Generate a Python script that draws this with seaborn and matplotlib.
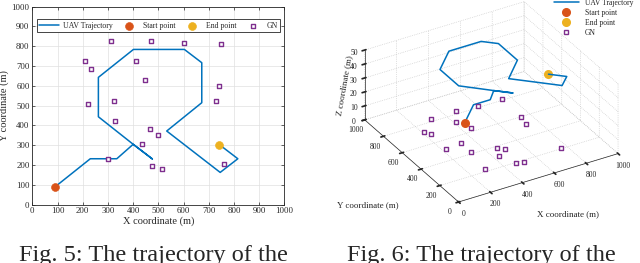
import pandas as pd
import matplotlib
matplotlib.use('Agg')
import matplotlib.pyplot as plt
import seaborn as sns
from matplotlib.lines import Line2D

sns.set_theme(style='whitegrid')
plt.rcParams['font.family'] = ['Liberation Serif', 'DejaVu Serif']

# UAV trajectory (m) (it doubles back on the short spur)
traj_x = [90, 230, 335, 400, 476, 400, 262, 262, 401, 603, 672, 672, 533, 745, 815, 742]
traj_y = [90, 232, 232, 305, 231, 305, 444, 643, 784, 784, 717, 515, 372, 163, 232, 303]
traj_z = [48, 48, 48, 48, 48, 48, 48, 48, 48, 48, 48, 48, 48, 48, 48, 48]

start_x, start_y, start_z = [90], [90], [48]
end_x, end_y, end_z = [742], [303], [48]

# ground nodes
gn_x = [312, 470, 603, 750, 210, 234, 413, 448, 741, 728,
        222, 325, 328, 466, 500, 433, 302, 475, 516, 762]
gn_y = [828, 828, 815, 810, 724, 687, 727, 631, 598, 522,
        510, 524, 421, 384, 354, 308, 229, 195, 182, 205]

c_traj = '#0072BD'
c_start = '#D95319'
c_end = '#EDB120'
c_gn = '#7E2F8E'

fig = plt.figure(figsize=(6.4, 2.63), dpi=100)

# ---------------- Fig. 5 : 2D view ----------------
ax1 = fig.add_axes([0.0505, 0.2217, 0.394, 0.753])
traj = pd.DataFrame({'x': traj_x, 'y': traj_y})
sns.lineplot(data=traj, x='x', y='y', sort=False, estimator=None, ax=ax1,
             color=c_traj, lw=1.1, label='UAV Trajectory')
sns.scatterplot(x=start_x, y=start_y, ax=ax1, color=c_start, edgecolor=c_start,
                s=32, label='Start point', zorder=5)
sns.scatterplot(x=end_x, y=end_y, ax=ax1, color=c_end, edgecolor=c_end,
                s=32, label='End point', zorder=5)
sns.scatterplot(x=gn_x, y=gn_y, ax=ax1, marker='s', color=c_gn, edgecolor=c_gn,
                s=10, linewidth=1.0, label='GN', zorder=4)
ax1.collections[-1].set_facecolor('white')

ax1.set_xlim(0, 1000)
ax1.set_ylim(0, 1000)
ax1.set_xticks(range(0, 1001, 100))
ax1.set_yticks(range(0, 1001, 100))
ax1.tick_params(labelsize=6.3, direction='in', length=2, width=0.5, pad=2,
                left=True, bottom=True, top=True, right=True, colors='#262626')
ax1.grid(True, color='#e0e0e0', lw=0.5)
for sp in ax1.spines.values():
    sp.set_color('#262626')
    sp.set_linewidth(0.6)
ax1.set_xlabel('X coordinate (m)', fontsize=7.5, labelpad=1)
ax1.set_ylabel('Y coordinate (m)', fontsize=7.5, labelpad=2)
leg = ax1.legend(loc='upper center', bbox_to_anchor=(0.5, 0.955), ncol=4, fontsize=5.6,
                 frameon=True, fancybox=False, edgecolor='#262626', framealpha=1,
                 handlelength=2.6, columnspacing=0.85, borderpad=0.3, handletextpad=0.45)
leg.get_frame().set_linewidth(0.6)

# ---------------- Fig. 6 : 3D view ----------------
ax2 = fig.add_axes([0.5125, 0.125, 0.5, 0.95], projection='3d')
ax2.set_proj_type('ortho')
ax2.view_init(elev=31, azim=-120.5)
ax2.set_box_aspect((1, 1, 0.44), zoom=1.065)
ax2.plot(traj_x, traj_y, traj_z, color=c_traj, lw=1.1)
ax2.scatter(gn_x, gn_y, zs=0, marker='s', s=8, facecolor='white', edgecolor=c_gn,
            linewidth=1.0, depthshade=False)
ax2.scatter(start_x, start_y, start_z, s=30, color=c_start, depthshade=False)
ax2.scatter(end_x, end_y, end_z, s=30, color=c_end, depthshade=False)
ax2.set_xlim(0, 1000)
ax2.set_ylim(0, 1000)
ax2.set_zlim(0, 50)
ax2.set_xticks(range(0, 1001, 200))
ax2.set_yticks(range(0, 1001, 200))
ax2.set_zticks(range(0, 51, 10))
ax2.tick_params(labelsize=5.5, pad=-3, colors='#262626')
ax2.tick_params(axis='z', pad=-4)
for axis in (ax2.xaxis, ax2.yaxis, ax2.zaxis):
    axis.set_pane_color((1, 1, 1, 0))
    axis.pane.set_edgecolor('#c8c8c8')
    axis._axinfo['grid'].update(color='#c4c4c4', linestyle=':', linewidth=0.5)
    axis.line.set_color('#262626')
    axis.line.set_linewidth(0.5)

fig.text(0.574, 0.22, 'Y coordinate (m)', fontsize=6.5, ha='center', va='center')
fig.text(0.888, 0.185, 'X coordinate (m)', fontsize=6.5, ha='center', va='center')
fig.text(0.538, 0.675, 'Z coordinate (m)', fontsize=6.5, ha='center', va='center', rotation=80)

handles = [Line2D([], [], color=c_traj, lw=1.1),
           Line2D([], [], ls='', marker='o', ms=5.5, color=c_start),
           Line2D([], [], ls='', marker='o', ms=5.5, color=c_end),
           Line2D([], [], ls='', marker='s', ms=3, mfc='white', mec=c_gn, mew=1.0)]
fig.legend(handles, ['UAV Trajectory', 'Start point', 'End point', 'GN'],
           loc='upper right', bbox_to_anchor=(1.0, 1.03), frameon=False, fontsize=5.5,
           handlelength=3.2, labelspacing=0.25, handletextpad=0.8)

# captions (cut off at the bottom, as in the page crop)
fig.text(0.24, 0.067, 'Fig. 5: The trajectory of the', ha='center', va='top', fontsize=17.5)
fig.text(0.752, 0.067, 'Fig. 6: The trajectory of the', ha='center', va='top', fontsize=17.5)

fig.savefig('out.png', dpi=100)
